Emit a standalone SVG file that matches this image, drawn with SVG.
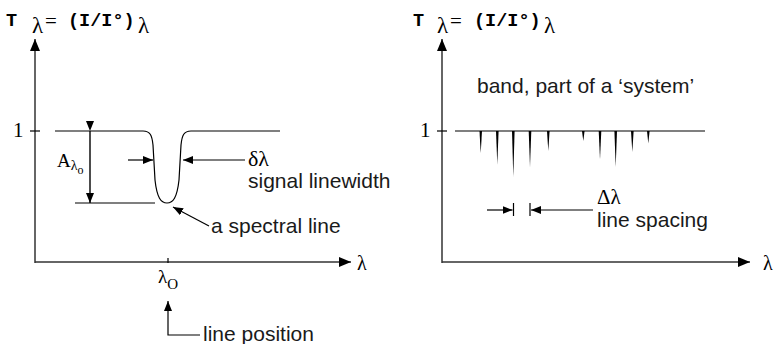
<svg xmlns="http://www.w3.org/2000/svg" width="777" height="344" viewBox="0 0 777 344">
<defs>
<marker id="ah" viewBox="0 0 10 8" refX="10" refY="4" markerWidth="10" markerHeight="8" markerUnits="userSpaceOnUse" orient="auto">
<path d="M0,0 L10,4 L0,8 Z" fill="#000"/>
</marker>
<marker id="ax" viewBox="0 0 12 10" refX="12" refY="5" markerWidth="12" markerHeight="10" markerUnits="userSpaceOnUse" orient="auto">
<path d="M0,0 L12,5 L0,10 Z" fill="#000"/>
</marker>
</defs>
<style>
.ln{fill:none;stroke:#000;stroke-width:1.2}
.axis{fill:none;stroke:#333;stroke-width:1.5}
.mono{font-family:"Liberation Mono","Courier New",monospace;font-weight:bold;font-size:18.5px;fill:#000}
.ser{font-family:"Liberation Serif","Times New Roman",serif;fill:#000}
.sans{font-family:"Liberation Sans",Arial,sans-serif;font-size:21px;fill:#1a1a1a}
.spk{fill:#000;stroke:none}
</style>
<rect width="777" height="344" fill="#fff"/>

<g id="left-title">
<text class="mono" x="6" y="26">T</text>
<text class="ser" x="32" y="33" font-size="23">λ</text>
<text class="ser" x="45" y="28" font-size="21">=</text>
<text class="mono" x="68" y="26">(I/I°)</text>
<text class="ser" x="138" y="33" font-size="23">λ</text>
</g>
<g id="right-title">
<text class="mono" x="413" y="26">T</text>
<text class="ser" x="437" y="33" font-size="23">λ</text>
<text class="ser" x="450" y="28" font-size="21">=</text>
<text class="mono" x="474" y="26">(I/I°)</text>
<text class="ser" x="544" y="33" font-size="23">λ</text>
</g>

<g id="left-axes">
<line class="axis" x1="35" y1="263" x2="35" y2="39" marker-end="url(#ax)"/>
<line class="axis" x1="35" y1="262" x2="351" y2="262" marker-end="url(#ax)"/>
<line class="ln" x1="30" y1="131" x2="40" y2="131"/>
<line class="ln" x1="168" y1="258" x2="168" y2="263"/>
<text class="ser" x="13" y="137" font-size="21">1</text>
<text class="ser" x="357" y="270" font-size="20">λ</text>
<text class="ser" x="158" y="283" font-size="19">λ<tspan font-size="15" dy="6">O</tspan></text>
</g>

<g id="left-line">
<path class="ln" d="M55,131 H143 C150,131 152,135 153,145 L155,180 C157,198 161,203 167,203 C173,203 177,198 179,180 L181,145 C182,135 184,131 191,131 H280"/>
<line class="ln" x1="75" y1="203" x2="155" y2="203"/>
</g>

<g id="left-labels">
<text class="ser" x="57" y="167" font-size="19">A<tspan font-size="14" dy="3">λ</tspan><tspan font-size="12" dy="4">o</tspan></text>
<text class="ser" x="248" y="166" font-size="22">δλ</text>
<text class="sans" x="248" y="188">signal linewidth</text>
<text class="sans" x="211" y="233">a spectral line</text>
<text class="sans" x="203" y="341">line position</text>
</g>

<g id="right-axes">
<line class="axis" x1="442" y1="263" x2="442" y2="39" marker-end="url(#ax)"/>
<line class="axis" x1="442" y1="262" x2="750" y2="262" marker-end="url(#ax)"/>
<line class="ln" x1="437" y1="131" x2="447" y2="131"/>
<text class="ser" x="420" y="137" font-size="21">1</text>
<text class="ser" x="763" y="270" font-size="20">λ</text>
<text class="sans" x="477" y="93">band, part of a ‘system’</text>
</g>

<g id="band">
<line class="ln" x1="455" y1="131" x2="705" y2="131"/>
<polygon class="spk" points="479.5,131 482,131 480.7,153.5"/>
<polygon class="spk" points="496,131 498.6,131 497.3,164.5"/>
<polygon class="spk" points="512,131 514.6,131 513.3,177"/>
<polygon class="spk" points="528.7,131 531.3,131 530,167"/>
<polygon class="spk" points="547,131 549.6,131 548.3,151"/>
<polygon class="spk" points="582,131 584.6,131 583.3,141"/>
<polygon class="spk" points="598.7,131 601.3,131 600,159.5"/>
<polygon class="spk" points="614.4,131 617,131 615.7,167"/>
<polygon class="spk" points="631,131 633.6,131 632.3,152"/>
<polygon class="spk" points="647,131 649.6,131 648.3,143.5"/>
</g>

<g id="connectors">
<line class="ln" x1="90" y1="131" x2="90" y2="203" marker-start="url(#ah)" marker-end="url(#ah)" style="stroke-width:1.4"/>
<line class="ln" x1="128" y1="160" x2="153" y2="160" marker-end="url(#ah)"/>
<line class="ln" x1="245" y1="160" x2="183" y2="160" marker-end="url(#ah)"/>
<line class="ln" x1="209" y1="226" x2="173" y2="207" marker-end="url(#ah)"/>
<polyline class="ln" points="200,335 168,335 168,301" marker-end="url(#ah)"/>
<line class="ln" x1="487" y1="210" x2="512.5" y2="210" marker-end="url(#ah)"/>
<line class="ln" x1="593" y1="210" x2="531" y2="210" marker-end="url(#ah)"/>
<line class="ln" x1="513.5" y1="203" x2="513.5" y2="216"/>
<line class="ln" x1="530" y1="203" x2="530" y2="216"/>
<text class="ser" x="597" y="204" font-size="21">Δλ</text>
<text class="sans" x="597" y="227">line spacing</text>
</g>
</svg>
